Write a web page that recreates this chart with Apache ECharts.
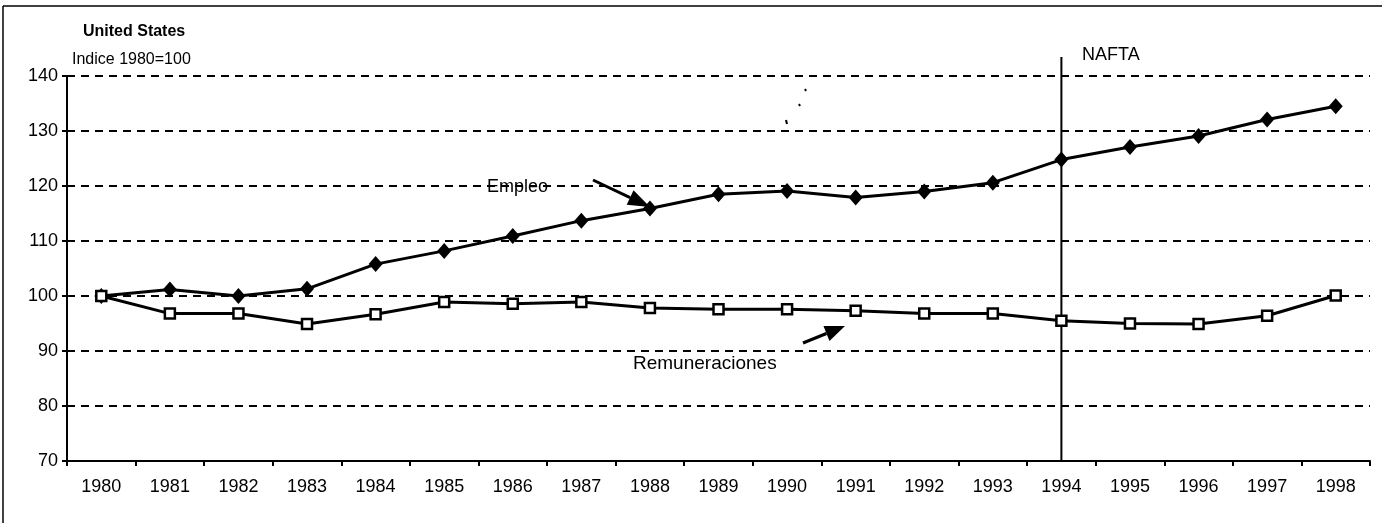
<!DOCTYPE html>
<html>
<head>
<meta charset="utf-8">
<style>
  html, body { margin: 0; padding: 0; background: #fff; }
  #chart { width: 1382px; height: 523px; }
</style>
<script src="https://cdn.jsdelivr.net/npm/echarts@6/dist/echarts.min.js"></script>
</head>
<body>
<div id="chart"></div>
<script>
const years = ['1980', '1981', '1982', '1983', '1984', '1985', '1986', '1987', '1988', '1989',
  '1990', '1991', '1992', '1993', '1994', '1995', '1996', '1997', '1998']
const empleo = [100, 101.2, 100, 101.3, 105.8, 108.2, 110.9, 113.7, 115.9, 118.5,
  119.1, 117.9, 119.0, 120.6, 124.8, 127.1, 129.1, 132.1, 134.5]
const remuneraciones = [100, 96.8, 96.8, 94.9, 96.7, 98.9, 98.6, 98.9, 97.8, 97.6,
  97.6, 97.3, 96.8, 96.8, 95.5, 95.0, 94.9, 96.4, 100.1]
const naftaYear = '1994'

const font = '"Liberation Sans", Arial, sans-serif'
const chart = echarts.init(document.getElementById('chart'))

const option = {
  animation: false,
  backgroundColor: '#fff',
  grid: { left: 67, right: 12, top: 76, bottom: 62 },
  xAxis: {
    type: 'category',
    data: years,
    boundaryGap: true,
    axisLine: { lineStyle: { color: '#000', width: 2 } },
    axisTick: { show: true, length: 5, lineStyle: { color: '#000', width: 2 } },
    axisLabel: { color: '#000', fontFamily: font, fontSize: 18, margin: 17 },
    splitLine: { show: false }
  },
  yAxis: {
    type: 'value',
    min: 70,
    max: 140,
    interval: 10,
    axisLine: { show: true, lineStyle: { color: '#000', width: 2 } },
    axisTick: { show: true, length: 5, lineStyle: { color: '#000', width: 2 } },
    axisLabel: { color: '#000', fontFamily: font, fontSize: 18, margin: 9 },
    splitLine: { show: true, lineStyle: { color: '#000', width: 2, type: [8, 6] } }
  },
  series: [
    {
      name: 'Empleo',
      type: 'line',
      data: empleo,
      symbol: 'diamond',
      symbolSize: [14, 16],
      lineStyle: { color: '#000', width: 3 },
      itemStyle: { color: '#000' }
    },
    {
      name: 'Remuneraciones',
      type: 'line',
      data: remuneraciones,
      symbol: 'rect',
      symbolSize: 10,
      lineStyle: { color: '#000', width: 3 },
      itemStyle: { color: '#fff', borderColor: '#000', borderWidth: 2.5 }
    }
  ]
}
chart.setOption(option)

// annotations placed from the axes
const naftaX = chart.convertToPixel({ xAxisIndex: 0 }, naftaYear)
const yBottom = chart.convertToPixel({ yAxisIndex: 0 }, 70)
const arrow = (x1, y1, x2, y2, head, w) => {
  const ang = Math.atan2(y2 - y1, x2 - x1)
  const bx = x2 - head * Math.cos(ang), by = y2 - head * Math.sin(ang)
  const px = -Math.sin(ang) * w, py = Math.cos(ang) * w
  return [
    { type: 'line', shape: { x1: x1, y1: y1, x2: bx, y2: by }, style: { stroke: '#000', lineWidth: 3 } },
    { type: 'polygon', shape: { points: [[x2, y2], [bx + px, by + py], [bx - px, by - py]] }, style: { fill: '#000' } }
  ]
}
const label = (x, y, text, size, bold) => ({
  type: 'text', x: x, y: y,
  style: { text: text, font: (bold ? 'bold ' : '') + size + 'px ' + font, fill: '#000', verticalAlign: 'middle' }
})

chart.setOption({
  graphic: [
    { type: 'line', shape: { x1: 3, y1: 6, x2: 1382, y2: 6 }, style: { stroke: '#000', lineWidth: 1.5 } },
    { type: 'line', shape: { x1: 3, y1: 6, x2: 3, y2: 523 }, style: { stroke: '#000', lineWidth: 1.5 } },
    label(83, 32, 'United States', 16, true),
    label(72, 60, 'Indice 1980=100', 16),
    { type: 'line', shape: { x1: naftaX, y1: 57, x2: naftaX, y2: yBottom }, style: { stroke: '#000', lineWidth: 2 } },
    label(1082, 55, 'NAFTA', 18),
    label(487, 187, 'Empleo', 18),
    label(633, 364, 'Remuneraciones', 19),
    ...arrow(593, 180, 650, 207, 22, 8),
    ...arrow(803, 343, 845, 326, 20, 8),
    { type: 'line', shape: { x1: 805, y1: 89, x2: 806, y2: 91 }, style: { stroke: '#000', lineWidth: 2 } },
    { type: 'line', shape: { x1: 799, y1: 104, x2: 800, y2: 106 }, style: { stroke: '#000', lineWidth: 2 } },
    { type: 'line', shape: { x1: 786, y1: 120, x2: 787, y2: 124 }, style: { stroke: '#000', lineWidth: 2 } }
  ]
})
</script>
</body>
</html>
